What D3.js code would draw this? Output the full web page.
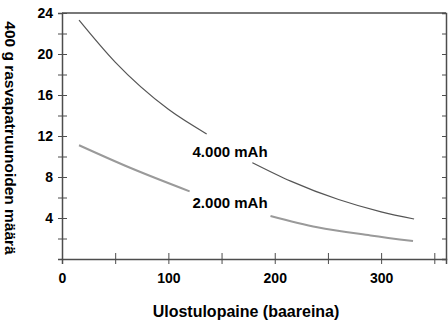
<!DOCTYPE html>
<meta charset="utf-8" />
<style>
  body { margin: 0; background: #fff; }
  text { font-family: Arial, "Liberation Sans", sans-serif; font-weight: bold; fill: #000; }
</style>
<body>
  <div id="my_dataviz"></div>
  <script src="https://d3js.org/d3.v7.min.js"></script>
  <script>
    // data, each curve is broken where its label sits
    var pressure4000 = [16, 50, 100, 136, 179, 215, 260, 300, 331];
    var cart4000 = [23.3, 19.2, 14.6, 12.2, 9.4, 7.6, 5.8, 4.6, 3.9];
    var break4000 = 4; // first index after the gap

    var pressure2000 = [16, 64, 120, 196, 240, 290, 330];
    var cart2000 = [11.1, 8.9, 6.6, 4.2, 3.1, 2.3, 1.75];
    var break2000 = 3;

    var xTicks = [0, 50, 100, 150, 200, 250, 300, 350];
    var xLabels = [0, 100, 200, 300];
    var yTicks = [2, 4, 6, 8, 10, 12, 14, 16, 18, 20, 22, 24];
    var yLabels = [4, 8, 12, 16, 20, 24];

    var seriesLabels = ["4.000 mAh", "2.000 mAh"];

    // set the dimensions and margins of the graph
    var margin = { top: 13, right: 2, bottom: 62, left: 62 },
      width = 448 - margin.left - margin.right,
      height = 321 - margin.top - margin.bottom;

    var svg = d3
      .select("#my_dataviz")
      .append("svg")
      .attr("width", width + margin.left + margin.right)
      .attr("height", height + margin.top + margin.bottom)
      .append("g")
      .attr("transform", "translate(" + margin.left + "," + margin.top + ")");

    var x = d3.scaleLinear().domain([0, 361]).range([0, width]);
    var y = d3.scaleLinear().domain([0, 24]).range([height, 0]);

    var axisColor = "#4d4d4d";

    // top border
    svg
      .append("line")
      .attr("x1", 0)
      .attr("x2", width)
      .attr("y1", 0)
      .attr("y2", 0)
      .attr("stroke", axisColor)
      .attr("stroke-width", 1.5);

    // right axis: inward ticks, no labels
    var yAxisR = svg
      .append("g")
      .attr("transform", "translate(" + width + ",0)")
      .call(
        d3.axisRight(y)
          .tickValues(yTicks.slice(0, -1))
          .tickSize(-4)
          .tickFormat("")
      );
    yAxisR.select(".domain").attr("stroke", axisColor).attr("stroke-width", 1.5);
    yAxisR.selectAll(".tick line").attr("stroke", axisColor);

    // left axis: ticks crossing the line
    var yAxis = svg
      .append("g")
      .call(
        d3.axisLeft(y)
          .tickValues(yTicks)
          .tickSize(4)
          .tickPadding(5)
          .tickFormat(function(d) {
            return yLabels.indexOf(d) >= 0 ? d : "";
          })
      );
    yAxis.select(".domain").attr("stroke", axisColor).attr("stroke-width", 1.5);
    yAxis.selectAll(".tick line").attr("stroke", axisColor).attr("x1", 5);
    yAxis.selectAll(".tick text").style("font-size", "14px");

    // bottom axis
    var xAxis = svg
      .append("g")
      .attr("transform", "translate(0," + height + ")")
      .call(
        d3.axisBottom(x)
          .tickValues(xTicks)
          .tickSize(5)
          .tickPadding(9)
          .tickFormat(function(d) {
            return xLabels.indexOf(d) >= 0 ? d : "";
          })
      );
    xAxis.select(".domain").attr("stroke", axisColor).attr("stroke-width", 1.5);
    xAxis
      .selectAll(".tick line")
      .attr("stroke", axisColor)
      .attr("y1", -6)
      .attr("opacity", function(d) {
        return d === 0 ? 0 : 1;
      });
    xAxis.selectAll(".tick text").style("font-size", "14px");

    // axis titles
    svg
      .append("text")
      .attr("x", width / 2 - 8)
      .attr("y", height + 58)
      .attr("text-anchor", "middle")
      .style("font-size", "16px")
      .text("Ulostulopaine (baareina)");

    svg
      .append("text")
      .attr("transform", "translate(" + (5 - margin.left) + "," + (125) + ") rotate(90)")
      .attr("text-anchor", "middle")
      .style("font-size", "15.5px")
      .text("400 g rasvapatruunoiden määrä");

    // curves
    var line = d3
      .line()
      .curve(d3.curveMonotoneX)
      .x(function(d) { return x(d.p); })
      .y(function(d) { return y(d.v); });

    function pieces(ps, vs, cut) {
      var pts = ps.map(function(p, i) {
        return { p: p, v: vs[i] };
      });
      return [pts.slice(0, cut), pts.slice(cut)];
    }

    pieces(pressure4000, cart4000, break4000).forEach(function(seg) {
      svg
        .append("path")
        .datum(seg)
        .attr("fill", "none")
        .attr("stroke", "#555")
        .attr("stroke-width", 1.2)
        .attr("d", line);
    });

    pieces(pressure2000, cart2000, break2000).forEach(function(seg) {
      svg
        .append("path")
        .datum(seg)
        .attr("fill", "none")
        .attr("stroke", "#9a9a9a")
        .attr("stroke-width", 2)
        .attr("d", line);
    });

    // series labels
    svg
      .append("text")
      .attr("x", x(158))
      .attr("y", y(10.0))
      .attr("text-anchor", "middle")
      .style("font-size", "15px")
      .text(seriesLabels[0]);

    svg
      .append("text")
      .attr("x", x(158))
      .attr("y", y(5.0))
      .attr("text-anchor", "middle")
      .style("font-size", "15px")
      .text(seriesLabels[1]);
  </script>
</body>
